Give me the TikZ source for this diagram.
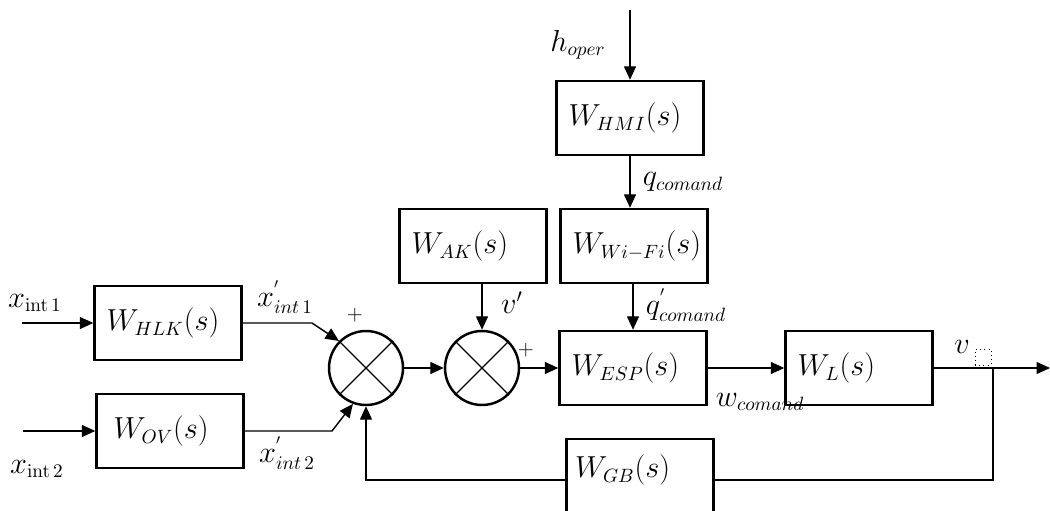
\documentclass[tikz,border=0pt]{standalone}
\usepackage{amsmath,amssymb}
\usepackage{tikz}
\usetikzlibrary{arrows.meta}
\tikzset{
  blkbox/.style  = {draw,line width=1.4pt,minimum width=2.94cm,minimum height=1.48cm,
                    text width=2.46cm,inner xsep=0.24cm,align=left,font=\fontsize{16}{19}\selectfont},
  sumnode/.style = {draw,circle,line width=1.4pt,minimum size=1.48cm,inner sep=0pt},
  sigarr/.style  = {-{Triangle[length=2.7mm,width=2.4mm]},line width=0.8pt},
  sigline/.style = {line width=0.8pt},
  lbl/.style     = {inner sep=1pt,font=\fontsize{16}{19}\selectfont}
}
\newcommand{\crossx}[1]{%
  \draw[line width=0.7pt] (#1.45) -- (#1.225) (#1.135) -- (#1.-45);
}

\begin{document}
\begin{tikzpicture}[x=0.02cm,y=-0.02cm]
  \path[use as bounding box,clip] (0,0) rectangle (1050,510);
  \node[blkbox] (hlk)  at (168,323) {$W_{HLK}(s)$};
  \node[blkbox] (ov)   at (170,431) {\hspace*{0.1cm}$W_{OV}(s)$};
  \node[blkbox] (hmi)  at (630,118) {$W_{HMI}(s)$};
  \node[blkbox] (ak)   at (473,246) {$W_{AK}(s)$};
  \node[blkbox] (wifi) at (634,246) {$W_{Wi-Fi}(s)$};
  \node[blkbox] (esp)  at (633,368) {$W_{ESP}(s)$};
  \node[blkbox] (wl)   at (859,368) {$W_{L}(s)$};
  \node[blkbox,minimum height=1.64cm,text depth=0.55cm,inner xsep=0.16cm,text width=2.6cm] (gb) at (640,480) {$W_{GB}(s)$};
  \node[sumnode] (s1) at (366,368) {};
  \node[sumnode] (s2) at (482,368) {};
  \crossx{s1}
  \crossx{s2}
  \coordinate (in1) at (22,323);
  \coordinate (in2) at (23,431);
  \coordinate (k1)  at (312,323);
  \coordinate (k2)  at (332,431);
  \coordinate (top) at (630,10);
  \coordinate (out) at (1050,368);
  \coordinate (br)  at (993,368);
  \draw[sigarr] (in1) -- (hlk.west);
  \draw[sigarr] (in2) -- (ov.west);
  \draw[sigarr] (hlk.east) -- (k1) -- (s1.135);
  \draw[sigarr] (ov.east) -- (k2) -- (s1.-110);
  \draw[sigarr] (gb.west) -- (s1.south |- gb.west) -- (s1.south);
  \draw[sigarr] (s1.east) -- (s2.west);
  \draw[sigarr] (s2.east) -- (esp.west);
  \draw[sigarr] (s2.north |- ak.south) -- (s2.north);
  \draw[sigarr] (top) -- (hmi.north);
  \draw[sigarr] (hmi.south) -- (wifi.north -| hmi.south);
  \draw[sigarr] (esp.north |- wifi.south) -- (esp.north);
  \draw[sigarr] (esp.east) -- (wl.west);
  \draw[sigarr] (wl.east) -- (out);
  \draw[sigline] (br) |- (gb.east);
  \node[lbl] (lx1)  at (35,303)  {$x_{\mathrm{int}\,1}$};
  \node[lbl] (lx2)  at (37,469)  {$x_{\mathrm{int}\,2}$};
  \node[lbl] (lx1p) at (285,297) {$x^{'}_{int\,1}$};
  \node[lbl] (lx2p) at (287,453) {$x^{'}_{int\,2}$};
  \node[lbl,font=\fontsize{12}{14}\selectfont] (pl1) at (355,315) {$+$};
  \node[lbl,font=\fontsize{12}{14}\selectfont] (pl2) at (526,350) {$+$};
  \node[lbl] (lv)   at (512,303) {$v'$};
  \node[lbl] (lh)   at (578,45)  {$h_{oper}$};
  \node[lbl] (lq)   at (683,182) {$q_{comand}$};
  \node[lbl] (lqp)  at (686,305) {$q^{'}_{comand}$};
  \node[lbl] (lw)   at (760,402) {$w_{comand}$};
  \node[lbl] (lvo)  at (962,347) {$v$};
  \node[draw,dotted,thin,minimum size=0.32cm,inner sep=0pt] (sq) at (983,357) {};
\end{tikzpicture}
\end{document}
